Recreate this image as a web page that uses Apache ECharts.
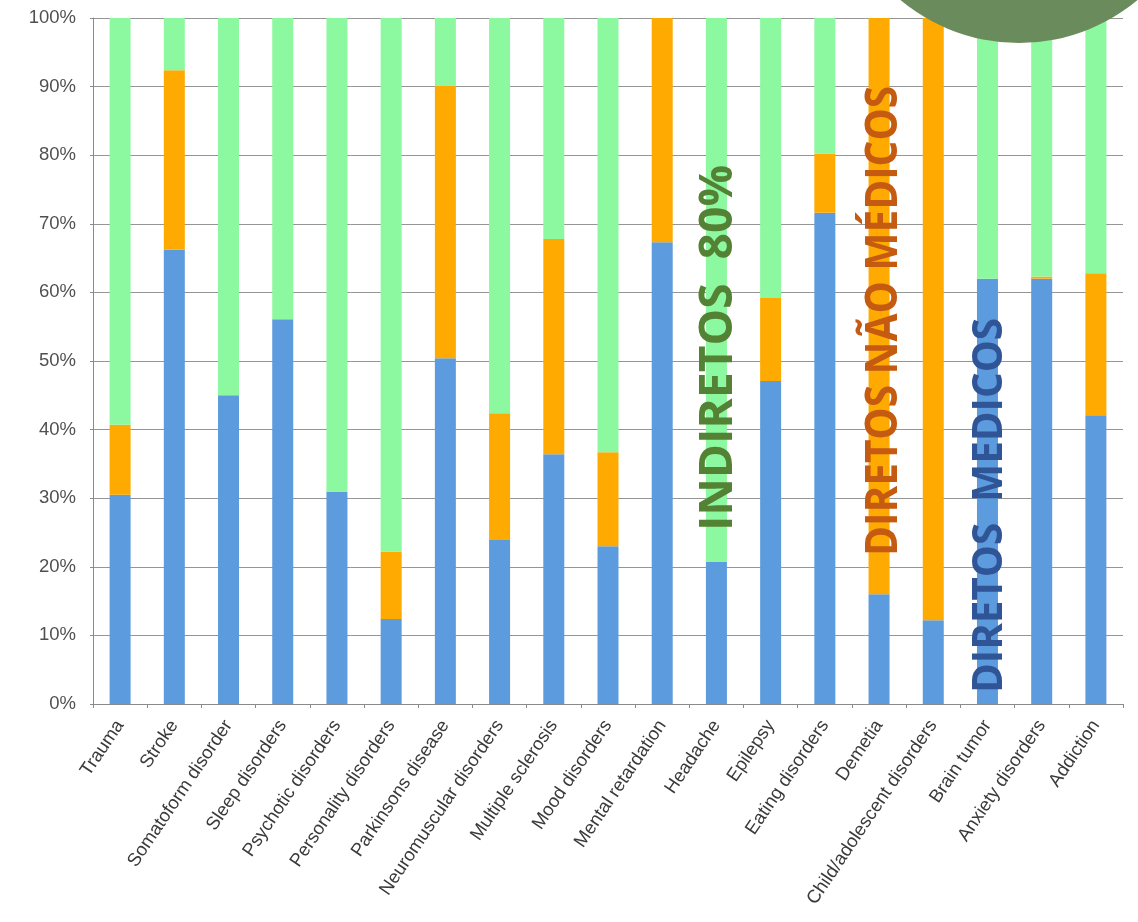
<!DOCTYPE html>
<html>
<head>
<meta charset="utf-8">
<script src="https://cdn.jsdelivr.net/npm/echarts@6/dist/echarts.min.js"></script>
<style>
html,body{margin:0;padding:0;background:#fff;}
#chart{width:1138px;height:922px;}
</style>
</head>
<body>
<div id="chart"></div>
<script>
const categories = ['Trauma','Stroke','Somatoform disorder','Sleep disorders','Psychotic disorders','Personality disorders','Parkinsons disease','Neuromuscular disorders','Multiple sclerosis','Mood disorders','Mental retardation','Headache','Epilepsy','Eating disorders','Demetia','Child/adolescent disorders','Brain tumor','Anxiety disorders','Addiction'];
const directMedical    = [30.5, 66.2, 45.0, 56.1, 30.9, 12.4, 50.4, 23.9, 36.4, 23.0, 67.3, 20.7, 47.1, 71.6, 16.0, 12.2, 62.0, 62.0, 42.1];
const directNonMedical = [10.2, 26.2,  0.0,  0.0,  0.0,  9.8, 39.7, 18.5, 31.4, 13.7, 32.7,  0.0, 12.1,  8.6, 84.0, 87.8,  0.0,  0.3, 20.7];
const indirect         = [59.3,  7.6, 55.0, 43.9, 69.1, 77.8,  9.9, 57.6, 32.2, 63.3,  0.0, 79.3, 40.8, 19.8,  0.0,  0.0, 38.0, 37.7, 37.2];
const yTicks = [0,10,20,30,40,50,60,70,80,90,100];
const annotations = ['INDIRETOS  80%', 'DIRETOS NÃO MÉDICOS', 'DIRETOS  MEDICOS'];

const chart = echarts.init(document.getElementById('chart'), null, {renderer:'canvas'});

const FONT_FAMILY = '"Liberation Sans Narrow", "Open Sans", sans-serif';
const measureCtx = document.createElement('canvas').getContext('2d');
function fitScale(text, size, target){
  measureCtx.font = 'bold ' + size + 'px ' + FONT_FAMILY;
  return target / measureCtx.measureText(text).width;
}
function vText(text, x, yBottom, len, size, color){
  const s = fitScale(text, size, len);
  return {
    type:'text', x:x, y:yBottom, rotation:Math.PI/2, scaleX:s, scaleY:1, z:100,
    style:{text:text, fill:color, font:'bold ' + size + 'px ' + FONT_FAMILY, align:'left', verticalAlign:'middle'}
  };
}

const barStyle = (color)=>({color:color});
chart.setOption({
  animation:false,
  backgroundColor:'#ffffff',
  grid:{left:93, right:15, top:18, bottom:218, containLabel:false},
  xAxis:{
    type:'category', data:categories, boundaryGap:true,
    axisLine:{show:true, lineStyle:{color:'#8a8a8a', width:1}},
    axisTick:{show:true, alignWithLabel:false, length:4, lineStyle:{color:'#8a8a8a'}},
    axisLabel:{rotate:56, interval:0, color:'#3a3a3a', fontSize:18.5, fontFamily:'Liberation Sans, Arial, sans-serif', margin:18},
    splitLine:{show:false}
  },
  yAxis:{
    type:'value', min:yTicks[0], max:yTicks[yTicks.length-1], interval:10,
    axisLine:{show:true, lineStyle:{color:'#8a8a8a'}},
    axisTick:{show:true, length:3, lineStyle:{color:'#8a8a8a'}},
    axisLabel:{formatter:'{value}%', color:'#505050', fontSize:18.5, fontFamily:'Liberation Sans, Arial, sans-serif', margin:17},
    splitLine:{show:true, lineStyle:{color:'#959595', width:1}}
  },
  series:[
    {name:'Diretos médicos', type:'bar', stack:'t', data:directMedical, barWidth:21, itemStyle:barStyle('#5D9BDF')},
    {name:'Diretos não médicos', type:'bar', stack:'t', data:directNonMedical, barWidth:21, itemStyle:barStyle('#FFAA00')},
    {name:'Indiretos', type:'bar', stack:'t', data:indirect, barWidth:21, itemStyle:barStyle('#8CF8A0')}
  ],
  graphic:[
    {type:'circle', shape:{cx:1019, cy:-142, r:185}, style:{fill:'#6A8B5B'}, z:50},
    vText(annotations[0], 719, 531, 366, 46, '#548235'),
    vText(annotations[1], 884, 556, 470, 44, '#C55A11'),
    vText(annotations[2], 990, 693, 375, 42, '#2F5597')
  ]
});
</script>
</body>
</html>
